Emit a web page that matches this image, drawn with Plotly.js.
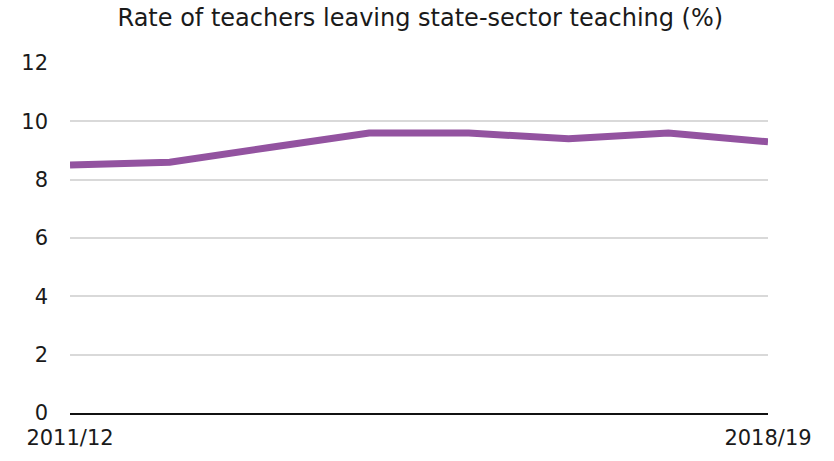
<!DOCTYPE html>
<html>
<head>
<meta charset="utf-8">
<script src="https://cdn.plot.ly/plotly-3.0.1.min.js"></script>
<style>html,body{margin:0;padding:0;background:#fff;}#chart{width:834px;height:461px;}</style>
</head>
<body>
<div id="chart"></div>
<script>
const years = ["2011/12","2012/13","2013/14","2014/15","2015/16","2016/17","2017/18","2018/19"];
const leavingRate = [8.5, 8.6, 9.1, 9.6, 9.6, 9.4, 9.6, 9.3];
const xTickLabels = ["2011/12","2018/19"];
const yTicks = [0,2,4,6,8,10,12];
const titleText = "Rate of teachers leaving state-sector teaching (%)";

const font = "DejaVu Sans, sans-serif";
Plotly.newPlot("chart", [{
  x: years, y: leavingRate, type: "scatter", mode: "lines",
  line: {color: "#9353a0", width: 7},
  hoverinfo: "none"
}], {
  width: 834, height: 461,
  margin: {l: 70, r: 66, t: 63, b: 48},
  paper_bgcolor: "#fff", plot_bgcolor: "#fff",
  showlegend: false,
  title: {text: titleText, font: {family: font, size: 24, color: "#1a1a1a"}, x: 0.504, xanchor: "center", y: 0.962, yanchor: "middle"},
  xaxis: {type: "category", range: [0, 7], tickvals: xTickLabels, ticktext: xTickLabels,
    showgrid: false, zeroline: false, showline: true, linecolor: "#111", linewidth: 2,
    ticks: "", tickfont: {family: font, size: 21, color: "#1a1a1a"}, ticklabelstandoff: 5},
  yaxis: {range: [0, 12], tickvals: yTicks, showgrid: true, gridcolor: "#d9d9d9", gridwidth: 2,
    zeroline: false, showline: false, ticks: "", tickfont: {family: font, size: 21, color: "#1a1a1a"},
    ticklabelstandoff: 21}
}, {displayModeBar: false, staticPlot: true});
</script>
</body>
</html>
